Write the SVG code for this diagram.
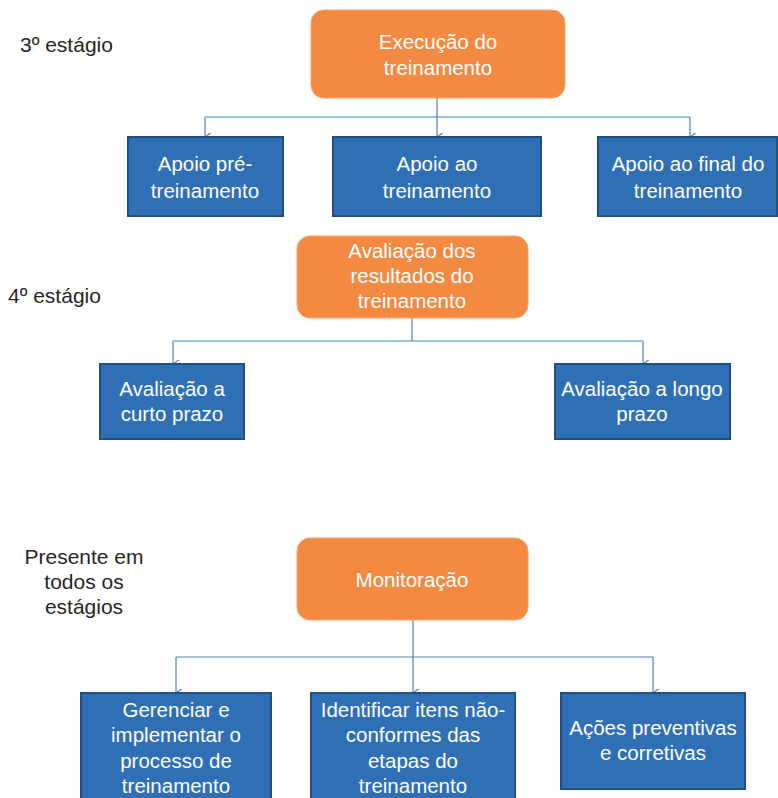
<svg xmlns="http://www.w3.org/2000/svg" width="778" height="798" viewBox="0 0 778 798">
<style>
.or{fill:#F48A42;stroke:#F6A06A;stroke-width:1}
.bl{fill:#2F6FB5;stroke:#234E80;stroke-width:2}
.wt{font-family:"Liberation Sans",Arial,sans-serif;font-size:20.5px;fill:#FFFFFF;text-anchor:middle}
.lb{font-family:"Liberation Sans",Arial,sans-serif;font-size:21px;fill:#262626}
.cn{fill:none;stroke:#4F81BD;stroke-width:1.2}
</style>
<defs>
<marker id="ah" viewBox="0 0 10 10" refX="5" refY="10" markerWidth="9" markerHeight="9" markerUnits="userSpaceOnUse" orient="auto-start-reverse">
<path d="M0,3 L5,10 L10,3" fill="none" stroke="#4F81BD" stroke-width="1.3"/>
</marker>
</defs>
<rect width="778" height="798" fill="#FFFFFF"/>
<g id="labels">
<text class="lb" x="20" y="52">3º estágio</text>
<text class="lb" x="8" y="303">4º estágio</text>
<text class="lb" x="84" y="564" text-anchor="middle">Presente em</text>
<text class="lb" x="84" y="589" text-anchor="middle">todos os</text>
<text class="lb" x="84" y="614" text-anchor="middle">estágios</text>
</g>
<g id="connectors">
<path class="cn" d="M437,98 V137" marker-end="url(#ah)"/>
<path class="cn" d="M205,117 H690"/>
<path class="cn" d="M205,117 V137" marker-end="url(#ah)"/>
<path class="cn" d="M690,117 V137" marker-end="url(#ah)"/>
<path class="cn" d="M412,318 V341"/>
<path class="cn" d="M173,341 H643"/>
<path class="cn" d="M173,341 V364" marker-end="url(#ah)"/>
<path class="cn" d="M643,341 V364" marker-end="url(#ah)"/>
<path class="cn" d="M413,620 V693" marker-end="url(#ah)"/>
<path class="cn" d="M176,657 H653"/>
<path class="cn" d="M176,657 V693" marker-end="url(#ah)"/>
<path class="cn" d="M653,657 V693" marker-end="url(#ah)"/>
</g>
<g id="execucao">
<rect class="or" x="311" y="10" width="254" height="88" rx="13"/>
<text class="wt" x="438" y="49">Execução do</text>
<text class="wt" x="438" y="75">treinamento</text>
</g>
<g id="apoio-pre">
<rect class="bl" x="128" y="137" width="155" height="79"/>
<text class="wt" x="205" y="171">Apoio pré-</text>
<text class="wt" x="205" y="198">treinamento</text>
</g>
<g id="apoio-ao">
<rect class="bl" x="333" y="137" width="208" height="79"/>
<text class="wt" x="437" y="171">Apoio ao</text>
<text class="wt" x="437" y="198">treinamento</text>
</g>
<g id="apoio-final">
<rect class="bl" x="598" y="137" width="179" height="79"/>
<text class="wt" x="688" y="171">Apoio ao final do</text>
<text class="wt" x="688" y="198">treinamento</text>
</g>
<g id="avaliacao">
<rect class="or" x="297" y="236" width="231" height="82" rx="13"/>
<text class="wt" x="412" y="258">Avaliação dos</text>
<text class="wt" x="412" y="283">resultados do</text>
<text class="wt" x="412" y="308">treinamento</text>
</g>
<g id="curto-prazo">
<rect class="bl" x="100" y="364" width="144" height="75"/>
<text class="wt" x="172" y="396">Avaliação a</text>
<text class="wt" x="172" y="421">curto prazo</text>
</g>
<g id="longo-prazo">
<rect class="bl" x="555" y="364" width="175" height="75"/>
<text class="wt" x="642" y="396">Avaliação a longo</text>
<text class="wt" x="642" y="421">prazo</text>
</g>
<g id="monitoracao">
<rect class="or" x="297" y="538" width="231" height="82" rx="13"/>
<text class="wt" x="412" y="587">Monitoração</text>
</g>
<g id="gerenciar">
<rect class="bl" x="81" y="693" width="190" height="110"/>
<text class="wt" x="176" y="717">Gerenciar e</text>
<text class="wt" x="176" y="742">implementar o</text>
<text class="wt" x="176" y="768">processo de</text>
<text class="wt" x="176" y="793">treinamento</text>
</g>
<g id="identificar">
<rect class="bl" x="311" y="693" width="204" height="110"/>
<text class="wt" x="413" y="717">Identificar itens não-</text>
<text class="wt" x="413" y="742">conformes das</text>
<text class="wt" x="413" y="768">etapas do</text>
<text class="wt" x="413" y="793">treinamento</text>
</g>
<g id="acoes">
<rect class="bl" x="561" y="693" width="184" height="96"/>
<text class="wt" x="653" y="735">Ações preventivas</text>
<text class="wt" x="653" y="760">e corretivas</text>
</g>
</svg>
